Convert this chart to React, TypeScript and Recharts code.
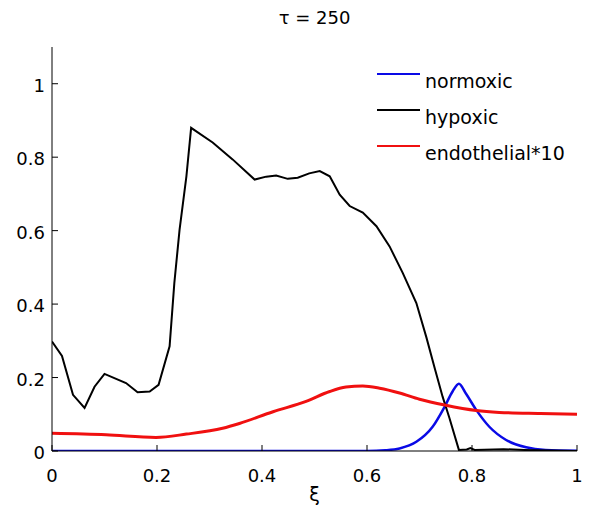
import { LineChart, Line, XAxis, YAxis } from 'recharts';

// ξ positions and values for each curve
const hypoxicXi = [0, 0.019, 0.04, 0.062, 0.081, 0.1, 0.141, 0.163, 0.186, 0.203, 0.224, 0.233, 0.243, 0.256, 0.265, 0.306, 0.344, 0.386, 0.408, 0.427, 0.449, 0.468, 0.49, 0.51, 0.529, 0.548, 0.567, 0.592, 0.618, 0.643, 0.668, 0.694, 0.713, 0.729, 0.744, 0.757, 0.775, 0.79, 0.797, 0.805, 0.86, 0.9, 1];
const hypoxicVal = [0.298, 0.259, 0.153, 0.117, 0.175, 0.21, 0.185, 0.16, 0.162, 0.18, 0.285, 0.457, 0.603, 0.748, 0.88, 0.84, 0.794, 0.739, 0.747, 0.75, 0.741, 0.744, 0.756, 0.762, 0.748, 0.698, 0.667, 0.649, 0.612, 0.557, 0.485, 0.403, 0.31, 0.225, 0.148, 0.09, 0.003, 0.004, 0.008, 0.003, 0.005, 0.003, 0];

const normoxicXi = [0, 0.6, 0.635, 0.662, 0.694, 0.725, 0.748, 0.763, 0.775, 0.789, 0.808, 0.833, 0.865, 0.903, 0.94, 1];
const normoxicVal = [0, 0, 0.002, 0.007, 0.025, 0.066, 0.121, 0.162, 0.183, 0.155, 0.112, 0.066, 0.03, 0.01, 0.003, 0.001];

const endoXi = [0, 0.103, 0.198, 0.256, 0.325, 0.357, 0.421, 0.484, 0.529, 0.56, 0.592, 0.624, 0.662, 0.7, 0.748, 0.808, 0.852, 0.93, 1];
const endoVal = [0.048, 0.044, 0.037, 0.046, 0.062, 0.075, 0.107, 0.135, 0.162, 0.174, 0.177, 0.171, 0.158, 0.141, 0.125, 0.11, 0.105, 0.102, 0.1];

const xTicks = [0, 0.2, 0.4, 0.6, 0.8, 1];
const yTicks = [0, 0.2, 0.4, 0.6, 0.8, 1];

const toRows = (xs: number[], ys: number[]) => xs.map((x, i) => ({ x, y: ys[i] }));

const series = [
  { name: 'normoxic', color: '#0a0ae6', width: 2.5, curve: 'monotone', rows: toRows(normoxicXi, normoxicVal) },
  { name: 'hypoxic', color: '#000000', width: 2, curve: 'linear', rows: toRows(hypoxicXi, hypoxicVal) },
  { name: 'endothelial*10', color: '#f01010', width: 3, curve: 'monotone', rows: toRows(endoXi, endoVal) },
];

const FONT = '"DejaVu Sans", Verdana, sans-serif';

const XTick = ({ x, y, payload }: any) => (
  <g>
    <line x1={x} x2={x} y1={y} y2={y - 6} stroke="#000" />
    <text x={x} y={y + 31} textAnchor="middle" fontSize={18} fontFamily={FONT} fill="#000">
      {String(payload.value)}
    </text>
  </g>
);

const YTick = ({ x, y, payload }: any) => (
  <g>
    <line x1={x} x2={x + 6} y1={y} y2={y} stroke="#000" />
    <text x={x - 7} y={y + 8} textAnchor="end" fontSize={18} fontFamily={FONT} fill="#000">
      {String(payload.value)}
    </text>
  </g>
);

export default function App() {
  return (
    <div style={{ position: 'relative', width: 601, height: 509, background: '#fff' }}>
      <style>{'body{margin:0}'}</style>
      <LineChart width={601} height={509} margin={{ top: 47, right: 24, bottom: 0, left: 0 }}>
        <XAxis
          type="number"
          dataKey="x"
          domain={[0, 1]}
          ticks={xTicks}
          height={58}
          tickSize={0}
          tickMargin={0}
          tickLine={false}
          tick={<XTick />}
          stroke="#000"
          allowDataOverflow
          label={{ value: 'ξ', position: 'insideBottom', offset: 8, fontSize: 19, fill: '#000', fontFamily: FONT }}
        />
        <YAxis
          type="number"
          dataKey="y"
          domain={[0, 1.1]}
          ticks={yTicks}
          width={52}
          tickSize={0}
          tickMargin={0}
          tickLine={false}
          tick={<YTick />}
          stroke="#000"
          allowDataOverflow
        />
        {series.map((s) => (
          <Line
            key={s.name}
            data={s.rows}
            dataKey="y"
            name={s.name}
            type={s.curve as any}
            stroke={s.color}
            strokeWidth={s.width}
            dot={false}
            isAnimationActive={false}
          />
        ))}
      </LineChart>
      {/* title */}
      <div
        style={{
          position: 'absolute',
          top: 7,
          left: 52,
          width: 525,
          textAlign: 'center',
          fontFamily: FONT,
          fontSize: 18,
        }}
      >
        τ = 250
      </div>
      {/* legend, no box like the original */}
      <svg style={{ position: 'absolute', top: 0, left: 0 }} width={601} height={509} pointerEvents="none">
        {series.map((s, i) => (
          <g key={s.name}>
            <line x1={377} x2={420} y1={74 + i * 36} y2={74 + i * 36} stroke={s.color} strokeWidth={2} />
            <text x={425} y={88 + i * 36} fontSize={19} fontFamily={FONT} fill="#000">
              {s.name}
            </text>
          </g>
        ))}
      </svg>
    </div>
  );
}
